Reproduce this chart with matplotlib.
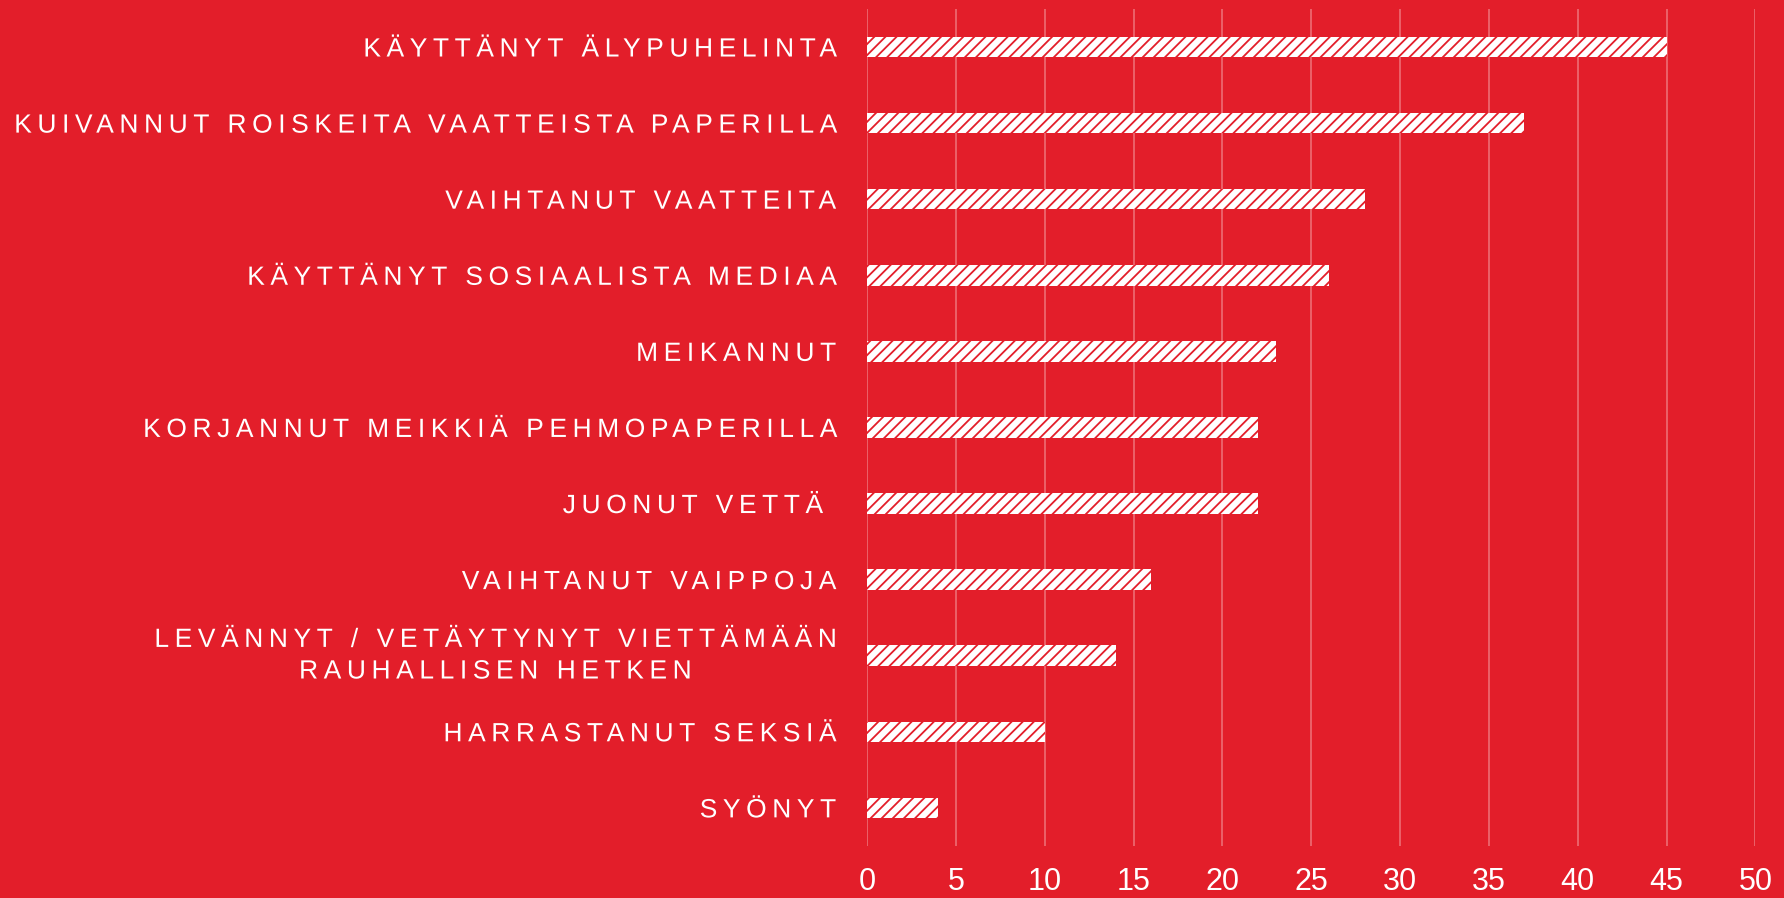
import matplotlib
matplotlib.use("Agg")
import numpy as np
import matplotlib.pyplot as plt
from matplotlib.patheffects import AbstractPathEffect
from matplotlib.textpath import text_to_path
from matplotlib.path import Path

# data
categories = [
    "KÄYTTÄNYT ÄLYPUHELINTA",
    "KUIVANNUT ROISKEITA VAATTEISTA PAPERILLA",
    "VAIHTANUT VAATTEITA",
    "KÄYTTÄNYT SOSIAALISTA MEDIAA",
    "MEIKANNUT",
    "KORJANNUT MEIKKIÄ PEHMOPAPERILLA",
    "JUONUT VETTÄ ",
    "VAIHTANUT VAIPPOJA",
    "LEVÄNNYT / VETÄYTYNYT VIETTÄMÄÄN\nRAUHALLISEN HETKEN",
    "HARRASTANUT SEKSIÄ",
    "SYÖNYT",
]
values = [45, 37, 28, 26, 23, 22, 22, 16, 14, 10, 4]
xticks = [0, 5, 10, 15, 20, 25, 30, 35, 40, 45, 50]

red = "#E31E2A"
plt.rcParams["hatch.color"] = red
plt.rcParams["hatch.linewidth"] = 1.3


def glyph_index(prop, line):
    # which glyph every vertex of the text path belongs to
    font = text_to_path._get_font(prop)
    info, gmap, _ = text_to_path.get_glyphs_with_font(font, line)
    idx = [np.full(len(gmap[g[0]][0]), i) for i, g in enumerate(info)]
    idx = np.concatenate(idx) if idx else np.zeros(0)
    return idx, len(info)


class Tracking(AbstractPathEffect):
    """letter spacing for a right aligned, centre-multialigned label"""
    def __init__(self, label, prop, t):
        super().__init__()
        self.t = t
        self.lines = {}
        for line in label.split("\n"):
            idx, n = glyph_index(prop, line)
            self.lines[len(idx)] = (idx, t * (n - 1))
        self.tmax = max(v[1] for v in self.lines.values())

    def draw_path(self, renderer, gc, tpath, affine, rgbFace=None):
        key = len(tpath.vertices)
        if key in self.lines:
            idx, T = self.lines[key]
            v = tpath.vertices.copy()
            v[:, 0] += idx * self.t - (T + self.tmax) / 2
            tpath = Path(v, tpath.codes)
        renderer.draw_path(gc, tpath, affine, rgbFace)


fig = plt.figure(figsize=(17.84, 8.98), dpi=100, facecolor=red)
ax = fig.add_axes([0.486, 0.058, 0.498, 0.932])
ax.set_facecolor(red)

pos = list(range(len(categories)))
ax.barh(pos, values, height=0.27, color="white", edgecolor=red,
        linewidth=0, hatch="///", zorder=3)

ax.set_xlim(0, 50)
ax.set_ylim(10.5, -0.5)
ax.set_xticks(xticks)
ax.set_xticklabels([str(t) for t in xticks], color="white",
                   fontsize=22, family="Liberation Sans")
ax.set_yticks(pos)
ylabs = ax.set_yticklabels(categories, color="white", fontsize=19,
                           family="Liberation Sans", multialignment="center",
                           linespacing=1.4)
ylabs[8].set_va("center")
ax.tick_params(axis="y", length=0, pad=22.5)
ax.tick_params(axis="x", length=0, pad=15)

ax.grid(axis="x", color="white", alpha=0.35, linewidth=1.2, zorder=0)
for s in ax.spines.values():
    s.set_visible(False)

# spacing so the longest label spans ~823 px like the reference
prop = ylabs[1].get_fontproperties()
px = prop.get_size_in_points() * fig.dpi / 72 / text_to_path.FONT_SCALE
v, _ = text_to_path.get_text_path(prop, categories[1])
v = np.asarray(v)
natural = v[:, 0].max() - v[:, 0].min()
track = (823 / px - natural) / (len(categories[1]) - 1)

for lab, txt in zip(ylabs, categories):
    lab.set_path_effects([Tracking(txt, lab.get_fontproperties(), track)])

fig.savefig("out.png", dpi=100, facecolor=red)
